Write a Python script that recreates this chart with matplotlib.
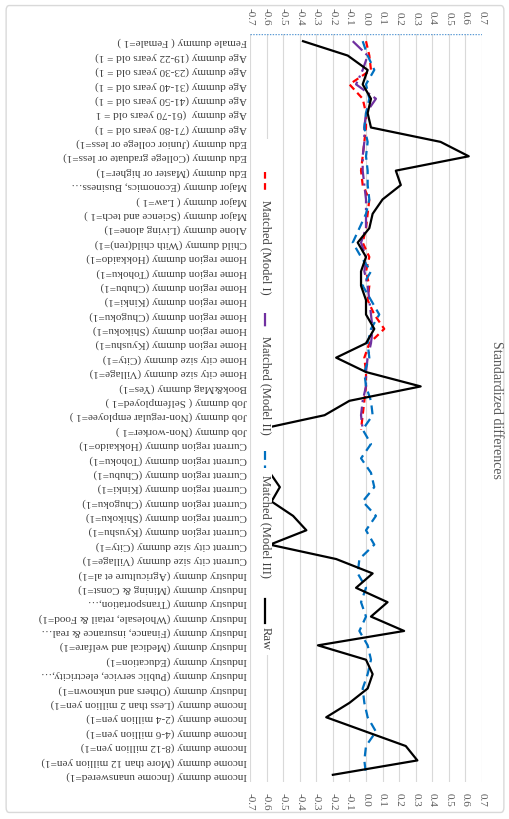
import matplotlib.pyplot as plt
from matplotlib.patches import FancyBboxPatch, Rectangle

nan = float("nan")

categories = [
    "Female dummy ( Female=1 )",
    "Age dummy (19-22 years old = 1)",
    "Age dummy (23-30 years old = 1)",
    "Age dummy (31-40 years old = 1)",
    "Age dummy (41-50 years old = 1)",
    "Age dummy  (61-70 years old = 1",
    "Age dummy (71-80 years old = 1)",
    "Edu dummy (Junior college or less=1)",
    "Edu dummy (College graduate or less=1)",
    "Edu dummy (Master or higher=1)",
    "Major dummy (Economics, Business…",
    "Major dummy ( Law=1 )",
    "Major dummy (Science and tech=1 )",
    "Alone dummy (Living alone=1)",
    "Child dummy (With child(ren)=1)",
    "Home region dummy (Hokkaido=1)",
    "Home region dummy (Tohoku=1)",
    "Home region dummy (Chubu=1)",
    "Home region dummy (Kinki=1)",
    "Home region dummy (Chugoku=1)",
    "Home region dummy (Shikoku=1)",
    "Home region dummy (Kyushu=1)",
    "Home city size dummy (City=1)",
    "Home city size dummy (Village=1)",
    "Book&Mag dummy (Yes=1)",
    "Job dummy ( Selfemployed=1 )",
    "Job dummy (Non-regular employee=1 )",
    "Job dummy (Non-worker=1 )",
    "Current region dummy (Hokkaido=1)",
    "Current region dummy (Tohoku=1)",
    "Current region dummy (Chubu=1)",
    "Current region dummy (Kinki=1)",
    "Current region dummy (Chugoku=1)",
    "Current region dummy (Shikoku=1)",
    "Current region dummy (Kyushu=1)",
    "Current city size dummy (City=1)",
    "Current city size dummy (Village=1)",
    "Industry dummy (Agriculture et al=1)",
    "Industry dummy (Mining & Const=1)",
    "Industry dummy (Transportation,…",
    "Industry dummy (Wholesale, retail & Food=1)",
    "Industry dummy (Finance, insurance & real…",
    "Industry dummy (Medical and welfare=1)",
    "Industry dummy (Education=1)",
    "Industry dummy (Public service, electricity,…",
    "Industry dummy (Others and unknown=1)",
    "Income dummy (Less than 2 million yen=1)",
    "Income dummy (2-4 million yen=1)",
    "Income dummy (4-6 million yen=1)",
    "Income dummy (8-12 million yen=1)",
    "Income dummy (More than 12 million yen=1)",
    "Income dummy (Income unanswered=1)",
]

# Models I and II only cover the first 28 covariates
matched_1 = [0.00, 0.02, 0.03, -0.10, -0.02, 0.00, 0.00, -0.01, -0.02, -0.03,
             -0.02, 0.02, 0.01, 0.00, -0.02, 0.02, 0.00, 0.02, 0.01, 0.05,
             0.11, 0.02, -0.01, 0.00, 0.00, -0.01, -0.02, -0.03] + [nan] * 24
matched_2 = [-0.08, 0.01, -0.02, -0.06, 0.06, 0.00, -0.01, -0.01, -0.02, -0.02,
             -0.01, 0.00, 0.00, 0.00, -0.03, 0.00, -0.01, 0.01, 0.02, 0.03,
             0.04, 0.03, 0.01, 0.00, 0.00, -0.02, -0.03, -0.02] + [nan] * 24
matched_3 = [-0.02, 0.01, 0.05, 0.00, 0.02, 0.00, -0.01, 0.01, 0.00, 0.01,
             0.01, 0.02, 0.00, -0.04, -0.08, -0.03, 0.03, -0.02, 0.03, 0.08,
             0.03, 0.01, 0.02, -0.01, 0.00, 0.03, 0.04, -0.02, 0.03, -0.03,
             0.03, 0.05, -0.02, 0.06, 0.00, 0.05, -0.04, -0.05, 0.00, -0.03,
             0.00, -0.04, 0.01, 0.03, 0.01, -0.02, -0.01, 0.01, 0.06, 0.00,
             -0.01, 0.00]
raw = [-0.38, -0.11, 0.01, -0.02, 0.03, 0.01, 0.03, 0.45, 0.62, 0.18,
       0.21, 0.10, 0.04, 0.02, -0.05, 0.00, -0.03, -0.03, 0.00, 0.00,
       0.05, 0.00, -0.18, 0.00, 0.33, -0.10, -0.25, -0.65, -0.62, -0.62,
       -0.58, -0.52, -0.57, -0.44, -0.36, -0.58, -0.18, 0.04, -0.06, 0.13,
       0.03, 0.23, -0.29, 0.00, 0.04, 0.01, -0.10, -0.24, 0.00, 0.24,
       0.31, -0.20]

series_names = ["Matched (Model I)", "Matched (Model II)", "Matched (Model III)", "Raw"]
value_ticks = [round(-0.7 + 0.1 * i, 1) for i in range(15)]

plt.rcParams["font.family"] = ["Liberation Serif", "DejaVu Serif"]
grey = "#595959"

fig = plt.figure(figsize=(5.1, 8.2), dpi=100)
fig.patches.append(FancyBboxPatch((0.012, 0.008), 0.976, 0.984, boxstyle="round,pad=0,rounding_size=0.006",
                                  transform=fig.transFigure, fill=False, edgecolor="#d9d9d9", lw=1))

ax = fig.add_axes([250 / 510, 1 - 783 / 820, 232 / 510, 748 / 820])
n = len(categories)
pos = list(range(n))

styles = [
    dict(color="#ff0000", ls=(0, (3, 2)), lw=1.6),
    dict(color="#7030a0", ls=(0, (6, 2, 1, 2)), lw=1.6),
    dict(color="#0070c0", ls=(0, (4, 2.5)), lw=1.6),
    dict(color="black", ls="-", lw=1.6),
]
for vals, st in zip([matched_1, matched_2, matched_3, raw], styles):
    ax.plot(vals, pos, **st)

ax.set_xlim(-0.7, 0.7)
ax.set_ylim(n - 0.5, -0.5)
ax.set_xticks(value_ticks)
ax.grid(axis="x", color="#d9d9d9", lw=0.8)
ax.set_axisbelow(True)
for s in ax.spines.values():
    s.set_visible(False)
ax.axhline(-0.5, color="#5b9bd5", ls=(0, (1, 1)), lw=1)
ax.tick_params(axis="x", length=0, top=True, labeltop=True, labelbottom=True, pad=7,
               labelsize=8, labelcolor=grey, labelrotation=-90)
ax.set_xticklabels([f"{v:.1f}" for v in value_ticks])
ax.set_yticks([])
for i, c in enumerate(categories):
    ax.text(-0.72, i, c, rotation=180, ha="right", va="center", fontsize=8,
            color="#404040", clip_on=False)

# legend drawn by hand (vertical)
ax.add_patch(Rectangle((0.015, 0.17), 0.08, 0.69, transform=ax.transAxes, facecolor="white",
                       edgecolor="none", zorder=3))
leg_y = [(0.815, 0.788), (0.627, 0.605), (0.443, 0.420), (0.245, 0.213)]
text_y = [0.780, 0.598, 0.412, 0.208]
for (y0, y1), ty, st, name in zip(leg_y, text_y, styles, series_names):
    ax.plot([0.066, 0.066], [y0, y1], transform=ax.transAxes, zorder=4, **st)
    ax.text(0.066, ty, name, transform=ax.transAxes, rotation=-90, ha="center", va="top",
            fontsize=9, color="#404040", zorder=4)

fig.text(497 / 510, 0.5, "Standardized differences", rotation=-90, ha="center", va="center",
         fontsize=10, color=grey)

fig.savefig("out.png", dpi=100)
